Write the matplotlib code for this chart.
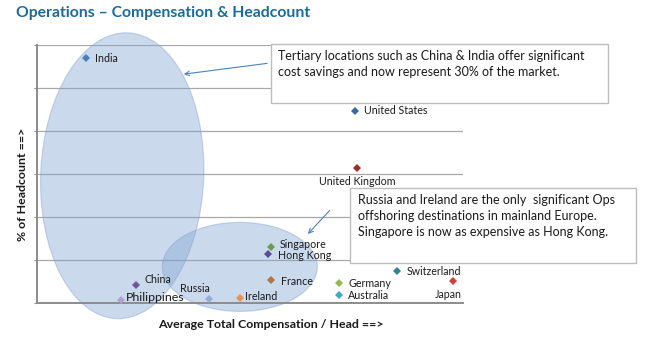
import matplotlib
matplotlib.use("Agg")
import matplotlib.pyplot as plt
from matplotlib.patches import Ellipse, Rectangle, FancyArrowPatch
from matplotlib.transforms import ScaledTranslation

plt.rcParams['font.family'] = ['Lato', 'DejaVu Sans']

# Locations: average total compensation per head vs. share of headcount
countries = ["India", "United States", "United Kingdom", "Singapore", "Hong Kong",
             "France", "China", "Philippines", "Russia", "Ireland",
             "Switzerland", "Germany", "Australia", "Japan"]
compensation = [11.5, 74.6, 75.2, 54.9, 54.3, 55.0, 23.2, 19.8, 40.4, 47.7,
                84.6, 70.9, 70.8, 97.6]
headcount = [28.45, 22.36, 15.73, 6.51, 5.66, 2.62, 2.09, 0.35, 0.52, 0.56,
             3.69, 2.36, 0.90, 2.56]
colors = ["#4A7EBB", "#3D68A6", "#9B2D2A", "#6E9B4E", "#5B4A94",
          "#B7743F", "#7157A0", "#B0A4CC", "#94AED4", "#E99252",
          "#2F8597", "#93B856", "#3FA8C4", "#D0413E"]
# label offset (points), horizontal alignment, font size
label_style = {
    "India": ((6.5, 0), "left", 7.7),
    "United States": ((6.5, 0), "left", 7.7),
    "United Kingdom": ((0, -10), "center", 7.7),
    "Singapore": ((6, 2), "left", 7.7),
    "Hong Kong": ((7, -0.5), "left", 7.7),
    "France": ((7, -0.5), "left", 7.7),
    "China": ((6, 4), "left", 7.7),
    "Philippines": ((3, 1.5), "left", 8.9),
    "Russia": ((-10, 7), "center", 7.7),
    "Ireland": ((3.5, 1), "left", 7.7),
    "Switzerland": ((6.5, -0.5), "left", 7.7),
    "Germany": ((6.5, -0.5), "left", 7.7),
    "Australia": ((6.5, -0.3), "left", 7.7),
    "Japan": ((-3, -9.5), "center", 7.7),
}

fig = plt.figure(figsize=(6.5, 3.38), dpi=100)
ax = fig.add_axes([37 / 650, 35 / 338, 426 / 650, 258 / 338])
ax.set_xlim(0, 100)
ax.set_ylim(0, 30)
ax.set_yticks([0, 5, 10, 15, 20, 25, 30])
ax.set_yticklabels([])
ax.set_xticks([])
ax.tick_params(axis='y', length=2.5, width=0.8, color="#8C8C8C", direction='out')
ax.grid(axis='y', color="#A8A8A8", linewidth=0.9)
ax.set_axisbelow(True)
for side in ("top", "right"):
    ax.spines[side].set_visible(False)
for side in ("left", "bottom"):
    ax.spines[side].set_color("#8C8C8C")
    ax.spines[side].set_linewidth(1.4)

# Highlight regions (sizes in inches, anchored at data points)
def region(cx, cy, w, h, angle):
    tr = fig.dpi_scale_trans + ScaledTranslation(cx, cy, ax.transData)
    e = Ellipse((0, 0), w, h, angle=angle, transform=tr, clip_on=False,
                facecolor="#7EA2D3", alpha=0.4, edgecolor="#7F9FCC",
                linewidth=0.9, zorder=2)
    ax.add_patch(e)

region(20.0, 14.8, 1.63, 2.86, -2.3)
region(47.6, 4.2, 1.55, 0.89, 0)

for name, x, y, c in zip(countries, compensation, headcount, colors):
    ax.plot([x], [y], marker="D", markersize=3.6, color=c, mew=0,
            linestyle="none", zorder=4, clip_on=False)
    off, ha, fs = label_style[name]
    ax.annotate(name, (x, y), xytext=off, textcoords="offset points",
                ha=ha, va="center", fontsize=fs, color="#1A1A1A", zorder=5,
                annotation_clip=False)

# Callout boxes
def px(x, y):
    return x / 650, 1 - y / 338

def callout(x0, y0, x1, y1, lines, tx, ty):
    (fx0, fy1) = px(x0, y1)
    (fx1, fy0) = px(x1, y0)
    fig.patches.append(Rectangle((fx0, fy1), fx1 - fx0, fy0 - fy1,
                                 transform=fig.transFigure, facecolor="white",
                                 edgecolor="#BDBDBD", linewidth=1.0, zorder=6))
    fig.text(*px(tx, ty), "\n".join(lines), ha="left", va="top",
             fontsize=9.0, color="#1A1A1A", linespacing=1.45, zorder=7)

def arrow(x0, y0, x1, y1):
    fig.patches.append(FancyArrowPatch(px(x0, y0), px(x1, y1),
                                       transform=fig.transFigure,
                                       arrowstyle="->", mutation_scale=8,
                                       color="#4F81BD", linewidth=0.8, zorder=6))

callout(270.5, 44, 608, 102.5,
        ["Tertiary locations such as China & India offer significant",
         "cost savings and now represent 30% of the market."], 277.5, 49.5)
arrow(270, 63, 181, 74.5)

callout(350.5, 187.5, 635.5, 262.5,
        ["Russia and Ireland are the only  significant Ops",
         "offshoring destinations in mainland Europe.",
         "Singapore is now as expensive as Hong Kong."], 357.5, 193.5)
arrow(331.5, 208.5, 306, 236)

fig.text(*px(16, 13), "Operations \u2013 Compensation & Headcount", ha="left",
         va="center", fontsize=11.3, fontweight="bold", color="#1B6A9C")
fig.text(*px(271, 325), "Average Total Compensation / Head ==>", ha="center",
         va="center", fontsize=8.9, fontweight="bold", color="#1A1A1A")
fig.text(*px(22.7, 184), "% of Headcount ==>", ha="center", va="center",
         rotation=90, fontsize=8.9, fontweight="bold", color="#1A1A1A")

fig.savefig("out.png", dpi=100)
